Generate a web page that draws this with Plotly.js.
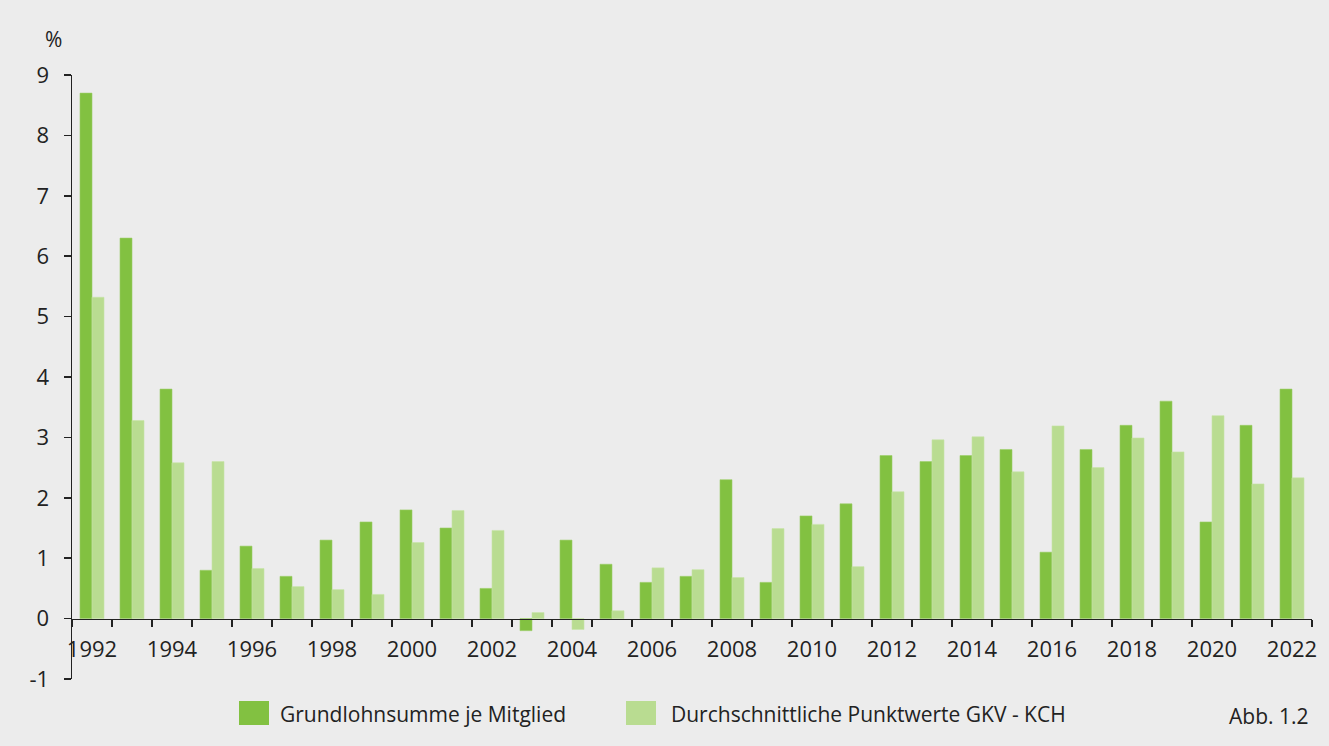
<!DOCTYPE html>
<html>
<head>
<meta charset="utf-8">
<script src="https://cdn.plot.ly/plotly-3.0.1.min.js"></script>
<style>
html,body{margin:0;padding:0;background:#ececec;}
#chart{width:1329px;height:746px;}
</style>
</head>
<body>
<div id="chart"></div>
<script>
const years = [1992,1993,1994,1995,1996,1997,1998,1999,2000,2001,2002,2003,2004,2005,2006,2007,2008,2009,2010,2011,2012,2013,2014,2015,2016,2017,2018,2019,2020,2021,2022];
const grundlohnsumme = [8.7,6.3,3.8,0.8,1.2,0.7,1.3,1.6,1.8,1.5,0.5,-0.2,1.3,0.9,0.6,0.7,2.3,0.6,1.7,1.9,2.7,2.6,2.7,2.8,1.1,2.8,3.2,3.6,1.6,3.2,3.8];
const punktwerte = [5.32,3.28,2.58,2.60,0.83,0.53,0.48,0.40,1.26,1.79,1.46,0.10,-0.18,0.13,0.84,0.81,0.68,1.49,1.56,0.86,2.10,2.96,3.01,2.43,3.19,2.50,2.99,2.76,3.36,2.23,2.33];
const tickYears = [1992,1994,1996,1998,2000,2002,2004,2006,2008,2010,2012,2014,2016,2018,2020,2022];
const seriesNames = ["Grundlohnsumme je Mitglied","Durchschnittliche Punktwerte GKV - KCH"];
const yTicks = [-1,0,1,2,3,4,5,6,7,8,9];

const darkGreen = "#82c141";
const lightGreen = "#b9dc91";
const fontFam = "'Open Sans', 'DejaVu Sans', sans-serif";

const traces = [
  {type:"bar", x:years, y:grundlohnsumme, name:seriesNames[0], showlegend:false,
   marker:{color:darkGreen, line:{color:"#9ccf68", width:0.6}}},
  {type:"bar", x:years, y:punktwerte, name:seriesNames[1], showlegend:false,
   marker:{color:lightGreen, line:{color:"#c8e4a8", width:0.6}}}
];

const layout = {
  width:1329, height:746,
  paper_bgcolor:"#ececec", plot_bgcolor:"#ececec",
  margin:{l:72, r:17, t:75, b:67},
  barmode:"group", bargap:0.4, bargroupgap:0,
  font:{family:fontFam, size:22, color:"#222"},
  yaxis:{range:[-1,9], tickvals:yTicks, ticktext:yTicks.map(String),
    showgrid:false, zeroline:false, showline:true, linecolor:"#222", linewidth:1.5,
    ticks:"outside", ticklen:7, tickwidth:1.5, tickcolor:"#222", ticklabelstandoff:10,
    tickfont:{family:fontFam, size:22, color:"#222"}},
  xaxis:{range:[1991.5,2022.5], anchor:"free", position:0.1,
    tickvals:tickYears, ticktext:tickYears.map(String), ticks:"",
    showgrid:false, zeroline:false, showline:true, linecolor:"#222", linewidth:1.5,
    tickfont:{family:fontFam, size:22, color:"#222"}, ticklabelstandoff:10,
    minor:{tick0:1991.5, dtick:1, ticks:"outside", ticklen:7, tickwidth:1.5, tickcolor:"#222", showgrid:false}},
  shapes:[
    {type:"rect", xref:"paper", yref:"paper", x0:(239-72)/1240, x1:(269-72)/1240, y0:(679-725)/604, y1:(679-701)/604, fillcolor:darkGreen, line:{width:0}},
    {type:"rect", xref:"paper", yref:"paper", x0:(626-72)/1240, x1:(656-72)/1240, y0:(679-725)/604, y1:(679-701)/604, fillcolor:lightGreen, line:{width:0}}
  ],
  annotations:[
    {text:"%", xref:"paper", yref:"paper", x:(53-72)/1240, y:(679-39)/604, xanchor:"center", yanchor:"middle", showarrow:false, font:{family:fontFam, size:21, color:"#222"}},
    {text:seriesNames[0], xref:"paper", yref:"paper", x:(278-72)/1240, y:(679-714)/604, xanchor:"left", yanchor:"middle", align:"left", showarrow:false, font:{family:fontFam, size:21, color:"#222"}},
    {text:seriesNames[1], xref:"paper", yref:"paper", x:(669-72)/1240, y:(679-714)/604, xanchor:"left", yanchor:"middle", align:"left", showarrow:false, font:{family:fontFam, size:21, color:"#222"}},
    {text:"Abb. 1.2", xref:"paper", yref:"paper", x:(1310-72)/1240, y:(679-716)/604, xanchor:"right", yanchor:"middle", showarrow:false, font:{family:fontFam, size:21, color:"#222"}}
  ]
};

Plotly.newPlot("chart", traces, layout, {displayModeBar:false, staticPlot:true});
</script>
</body>
</html>
